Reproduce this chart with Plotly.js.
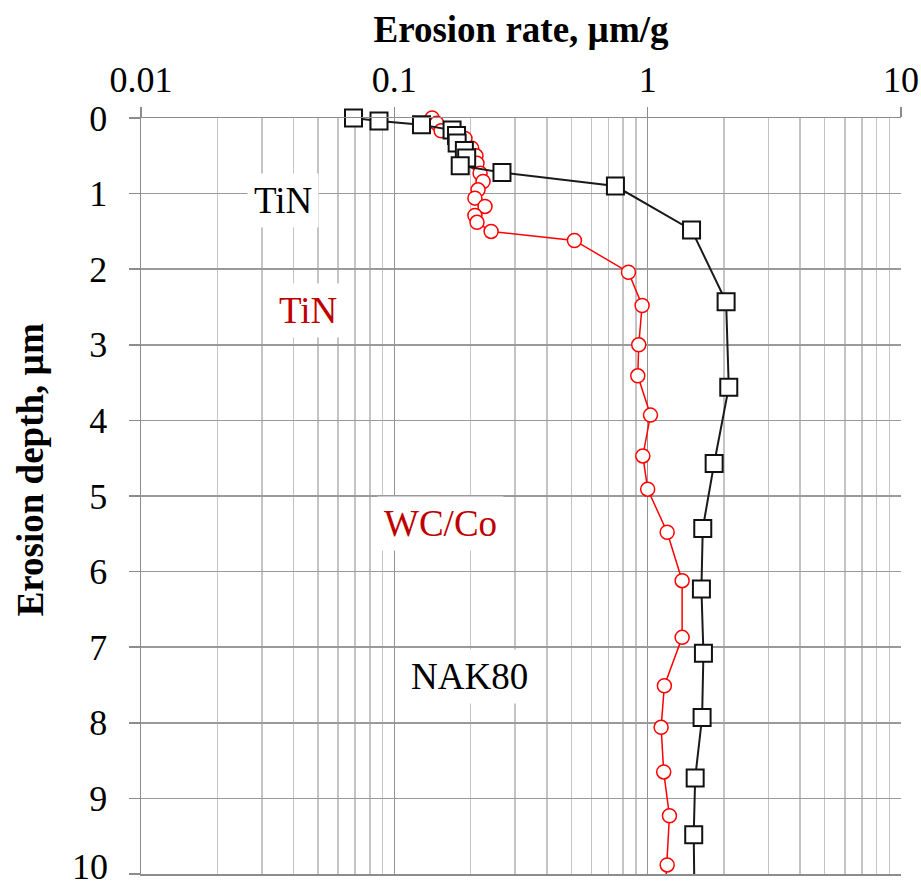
<!DOCTYPE html>
<html>
<head>
<meta charset="utf-8">
<script src="https://cdn.plot.ly/plotly-3.0.1.min.js"></script>
<style>html,body{margin:0;padding:0;background:#fff;}#chart{width:921px;height:888px;}</style>
</head>
<body>
<div id="chart"></div>
<script>
// Red series (TiN on WC/Co)
const redRate  = [0.141, 0.147, 0.153, 0.190, 0.202, 0.210, 0.212, 0.218, 0.224, 0.214, 0.208, 0.228, 0.208, 0.212, 0.241,
                  0.514, 0.840, 0.951, 0.922, 0.914, 1.026, 0.957, 1.000, 1.194, 1.368, 1.368, 1.164, 1.130, 1.157, 1.219, 1.194];
const redDepth = [0.00, 0.07, 0.17, 0.27, 0.40, 0.50, 0.60, 0.73, 0.84, 0.95, 1.06, 1.17, 1.29, 1.38, 1.50,
                  1.62, 2.04, 2.48, 3.00, 3.41, 3.93, 4.47, 4.91, 5.48, 6.12, 6.87, 7.51, 8.06, 8.65, 9.23, 9.88];
// next measured point lies just below the plotted depth range
const redNextRate = 1.17, redNextDepth = 10.3;
// Black series (TiN on NAK80)
const blackRate  = [0.069, 0.087, 0.128, 0.169, 0.176, 0.177, 0.189, 0.193, 0.182, 0.266, 0.746, 1.49, 2.04, 2.09, 1.83, 1.65, 1.63, 1.66, 1.64, 1.54, 1.52];
const blackDepth = [0.00, 0.04, 0.09, 0.16, 0.23, 0.33, 0.43, 0.53, 0.63, 0.72, 0.90, 1.48, 2.43, 3.56, 4.57, 5.43, 6.23, 7.08, 7.93, 8.73, 9.48];
const blackNextRate = 1.53, blackNextDepth = 10.3;

const xTickVals = [0.01, 0.1, 1, 10];
const xTickText = ["0.01", "0.1", "1", "10"];
const yTickVals = [0, 1, 2, 3, 4, 5, 6, 7, 8, 9, 10];
const yTickText = ["0", "1", "2", "3", "4", "5", "6", "7", "8", "9", "10"];
const xTitle = "Erosion rate, µm/g";
const yTitle = "Erosion depth, µm";

const labels = [
  {text: "TiN",   x: 0.0362, y: 1.09, color: "#000000"},
  {text: "TiN",   x: 0.0456, y: 2.55, color: "#c00000"},
  {text: "WC/Co", x: 0.152,  y: 5.37, color: "#c00000"},
  {text: "NAK80", x: 0.198,  y: 7.39, color: "#000000"}
];

const minorVals = [];
[0.01, 0.1, 1].forEach(d => { for (let k = 2; k <= 9; k++) minorVals.push(+(d * k).toPrecision(3)); });

const FONT = "Liberation Serif, Times New Roman, serif";
const RED = "#ff0000", BLACK = "#1a1a1a";

const traces = [
  {x: redRate.concat([redNextRate]), y: redDepth.concat([redNextDepth]), type: "scatter", mode: "lines",
   line: {color: RED, width: 1.5}, showlegend: false},
  {x: redRate, y: redDepth, type: "scatter", mode: "markers", cliponaxis: false,
   marker: {symbol: "circle", size: 14, color: "#ffffff", line: {color: RED, width: 1.5}}, showlegend: false},
  {x: blackRate.concat([blackNextRate]), y: blackDepth.concat([blackNextDepth]), type: "scatter", mode: "lines",
   line: {color: BLACK, width: 2}, showlegend: false},
  {x: blackRate, y: blackDepth, type: "scatter", mode: "markers", cliponaxis: false,
   marker: {symbol: "square", size: 17, color: "#ffffff", line: {color: "#111111", width: 2}}, showlegend: false}
];

const annotations = labels.map(l => ({
  x: Math.log10(l.x), y: l.y, xref: "x", yref: "y", text: l.text, showarrow: false,
  font: {family: FONT, size: 37, color: l.color}, bgcolor: "#ffffff", borderpad: 6
}));
annotations.push({
  xref: "paper", yref: "paper", x: -0.146, y: 0.534, xanchor: "center", yanchor: "middle",
  text: "<b>" + yTitle + "</b>", textangle: -90, showarrow: false,
  font: {family: FONT, size: 37, color: "#000"}
});
// last y tick label sits on the lower edge; draw it anchored so it stays inside the picture
const lastIdx = yTickVals.length - 1;
annotations.push({
  xref: "paper", yref: "y", x: -0.0421, y: yTickVals[lastIdx], xanchor: "right", yanchor: "bottom",
  yshift: -14, borderpad: 0, text: yTickText[lastIdx], showarrow: false,
  font: {family: FONT, size: 36, color: "#000"}
});

const layout = {
  width: 921, height: 888,
  margin: {l: 141, r: 20, t: 118, b: 14},
  paper_bgcolor: "#ffffff", plot_bgcolor: "#ffffff",
  font: {family: FONT, size: 37, color: "#000000"},
  xaxis: {
    type: "log", range: [-2, 1], side: "top",
    tickmode: "array", tickvals: xTickVals, ticktext: xTickText,
    ticks: "outside", ticklen: 10, tickcolor: "#8c8c8c", tickwidth: 1.5,
    showgrid: true, gridcolor: "#939393", gridwidth: 1.5,
    minor: {tickmode: "array", tickvals: minorVals, showgrid: true, gridcolor: "#c4c4c4", gridwidth: 1.5, ticks: ""},
    showline: true, linecolor: "#8c8c8c", linewidth: 1.5, mirror: true,
    zeroline: false, ticklabeloverflow: "allow",
    tickfont: {family: FONT, size: 36, color: "#000"},
    title: {text: "<b>" + xTitle + "</b>", font: {family: FONT, size: 37, color: "#000"}, standoff: 6}
  },
  yaxis: {
    range: [10, 0], tickmode: "array", tickvals: yTickVals,
    ticktext: yTickText.map((t, i) => i === lastIdx ? "" : t),
    ticks: "outside", ticklen: 11, tickcolor: "#8c8c8c", tickwidth: 1.5,
    ticklabelstandoff: 14,
    showgrid: true, gridcolor: "#9a9a9a", gridwidth: 1.5,
    showline: true, linecolor: "#8c8c8c", linewidth: 1.5,
    zeroline: false, ticklabeloverflow: "allow",
    tickfont: {family: FONT, size: 36, color: "#000"}
  },
  annotations: annotations
};

Plotly.newPlot("chart", traces, layout, {displayModeBar: false, staticPlot: true});
</script>
</body>
</html>
